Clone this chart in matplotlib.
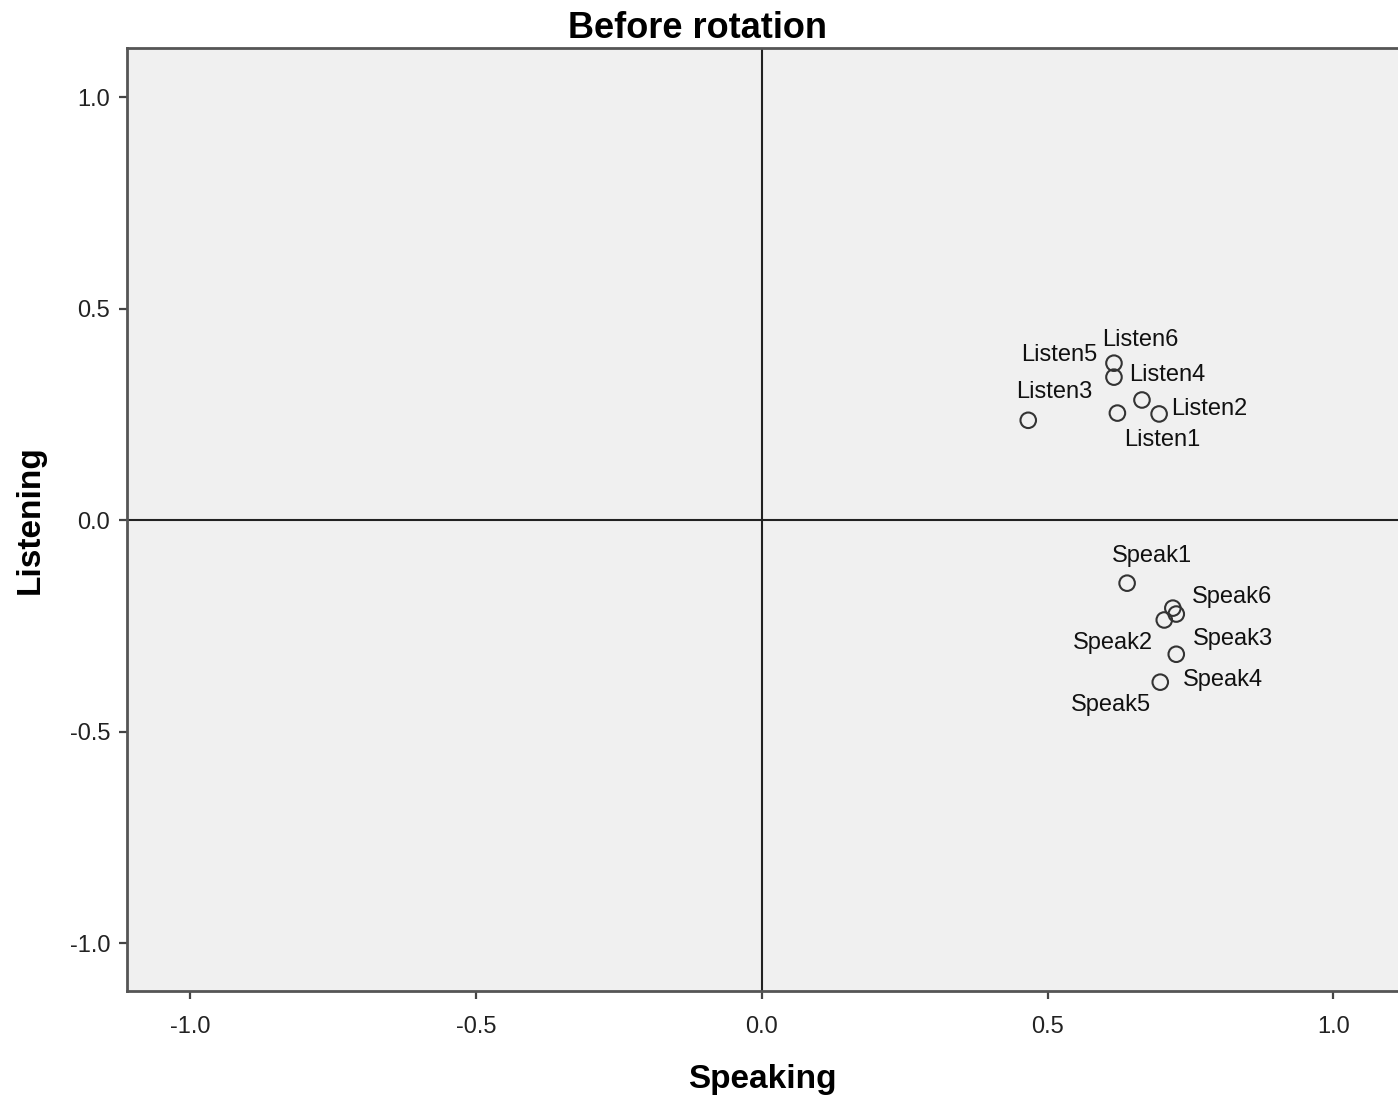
import matplotlib.pyplot as plt
from matplotlib.ticker import FormatStrFormatter

plt.rcParams['font.family'] = ['Liberation Sans', 'DejaVu Sans']

# loadings
labels = ["Listen1", "Listen2", "Listen3", "Listen4", "Listen5", "Listen6",
          "Speak1", "Speak2", "Speak3", "Speak4", "Speak5", "Speak6"]
speaking = [0.622, 0.695, 0.466, 0.665, 0.616, 0.616,
            0.639, 0.704, 0.725, 0.725, 0.697, 0.719]
listening = [0.253, 0.251, 0.236, 0.284, 0.338, 0.371,
             -0.149, -0.236, -0.222, -0.317, -0.383, -0.208]
ticks = [-1.0, -0.5, 0.0, 0.5, 1.0]

# label offsets in pixels (x right, y up), like SPSS placed them
offsets = {
    "Listen1": (45, -27), "Listen2": (50, 5), "Listen3": (26, 28),
    "Listen4": (25, 25), "Listen5": (-55, 22), "Listen6": (26, 23),
    "Speak1": (25, 27), "Speak2": (-51, -23), "Speak3": (57, -25),
    "Speak4": (47, -26), "Speak5": (-49, -23), "Speak6": (59, 11),
}

W, H = 1398, 1095
fig = plt.figure(figsize=(W / 100, H / 100), dpi=100)
ax = fig.add_axes([127 / W, 1 - 991 / H, (W - 127) / W, (991 - 48) / H])
ax.set_facecolor("#f0f0f0")

ax.set_xlim(-1.111, 1.113)
ax.set_ylim(-1.113, 1.116)

ax.axhline(0, color="#222222", lw=1.5, zorder=1)
ax.axvline(0, color="#222222", lw=1.5, zorder=1)

ax.scatter(speaking, listening, s=125, facecolors="none", edgecolors="#333333",
           linewidths=1.5, zorder=3)
for name, x, y in zip(labels, speaking, listening):
    dx, dy = offsets[name]
    ax.annotate(name, (x, y), xytext=(dx, dy), textcoords="offset pixels",
                ha="center", va="center", fontsize=17, color="#111111")

for side in ["left", "bottom", "top"]:
    ax.spines[side].set_color("#555555")
    ax.spines[side].set_linewidth(2)
ax.spines["right"].set_visible(False)

ax.set_xticks(ticks)
ax.set_yticks(ticks)
ax.xaxis.set_major_formatter(FormatStrFormatter("%.1f"))
ax.yaxis.set_major_formatter(FormatStrFormatter("%.1f"))
ax.tick_params(direction="out", length=6, width=1.6, color="#444444",
               labelsize=17, labelcolor="#222222", pad=6)
ax.tick_params(axis="x", pad=12)

# SPSS centres the title on the whole chart, not on the plot area
ax.set_title("Before rotation", fontsize=26, fontweight="bold", pad=7,
             x=(W / 2 - 2 - 127) / (W - 127))
ax.set_xlabel("Speaking", fontsize=24, fontweight="bold", labelpad=19)
ax.set_ylabel("Listening", fontsize=24, fontweight="bold", labelpad=17)

fig.savefig("out.png", dpi=100)
